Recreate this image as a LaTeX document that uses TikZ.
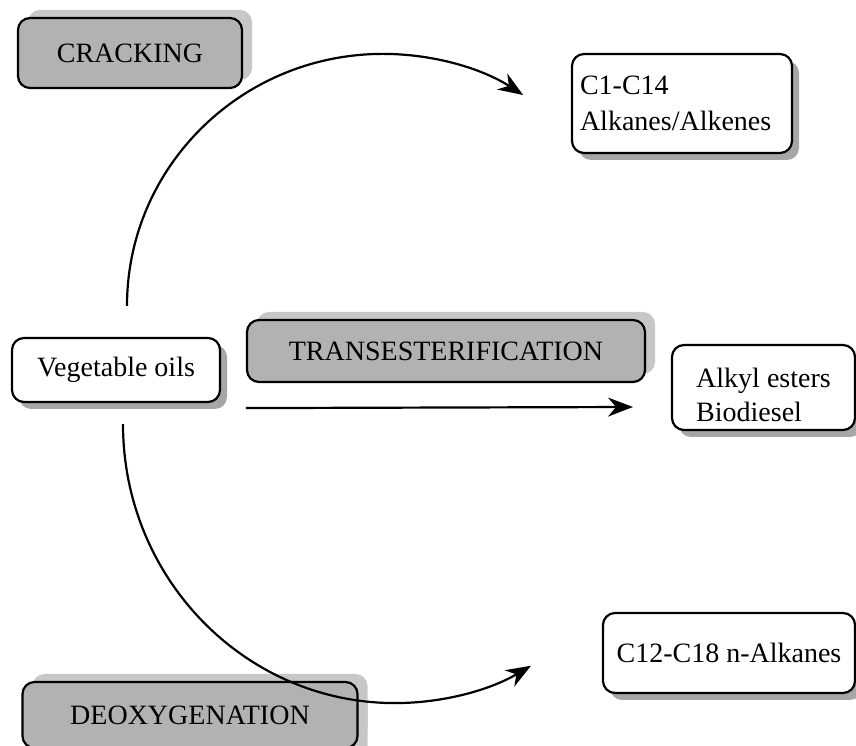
\documentclass[tikz,border=0pt]{standalone}
\usepackage{fontspec}
\setmainfont{Liberation Serif}
\usepackage{tikz}
\usetikzlibrary{shapes, positioning, calc, shadows, arrows.meta}
\newlength{\Corner}
\setlength\Corner{12pt}

\begin{document}
\begin{tikzpicture}[
    x = 1pt, y = 1pt, align = center,
    font = \fontsize{28}{34}\selectfont,
    process/.style = {
      rectangle, draw, line width = 2.2pt, rounded corners = \Corner,
      fill = black!30, inner sep = 2pt,
      drop shadow = {shadow xshift = 10pt, shadow yshift = 8pt,
        fill = black!22, opacity = 1}
    },
    product/.style = {
      rectangle, draw, line width = 2.2pt, rounded corners = \Corner,
      fill = white, inner sep = 2pt, align = left,
      drop shadow = {shadow xshift = 7pt, shadow yshift = -7pt,
        fill = black!35, opacity = 1}
    },
    flow/.style = {
      line width = 2.2pt, -{Stealth[length = 25pt, width = 19pt, inset = 8pt]}
    },
    ]
\useasboundingbox (0, 0) rectangle (856, 746);

% feed and products
\node  [product, align = center, minimum width = 208, minimum height = 64]  (veg_oil)  at (116, 376)  {Vegetable oils};
\node  [product, text width = 204, minimum width = 220, minimum height = 99]  (alk_c14)  at (682, 642.5)  {C1-C14\\[2pt]Alkanes/Alkenes};
\node  [product, text height = 68, text depth = 0, minimum width = 183, minimum height = 85]  (alkyl_est)  at (763.5, 358.5)  {Alkyl esters\\Biodiesel};
\node  [product, minimum width = 252, minimum height = 80]  (alk_c18)  at (729, 93)  {C12-C18 n-Alkanes};

% processes
\node  [process, minimum width = 224, minimum height = 70]  (cracking)  at (130, 693)  {CRACKING};
\node  [process, minimum width = 398, minimum height = 62]  (trans_est)  at (446, 395)  {TRANSESTERIFICATION};
\node  [process, minimum width = 335, minimum height = 66,
  drop shadow = {shadow xshift = 10pt, shadow yshift = -10pt, fill = black!22, opacity = 1}]
  (deoxy)  at (190, 31)  {DEOXYGENATION};

% arrow ends
\coordinate  (trans_tip)  at (633, 339);

\draw  [flow]  ([xshift = 11pt, yshift = 31pt]veg_oil.north)
  arc [start angle = 180, end angle = 56.8, x radius = 256, y radius = 252];
\draw  [flow]  ([xshift = 7pt, yshift = -21pt]veg_oil.south)
  arc [start angle = 180, end angle = 300, x radius = 272, y radius = 279];
\draw  [flow]  ([yshift = -25pt]trans_est.south west)  --  (trans_tip);

\end{tikzpicture}
\end{document}
